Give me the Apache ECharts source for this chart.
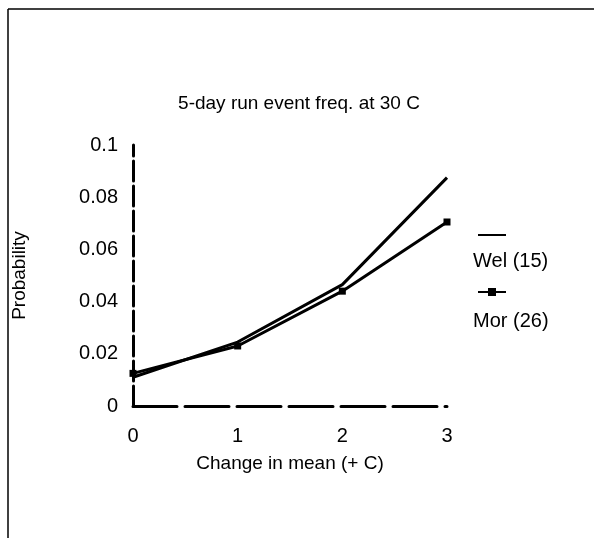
<!DOCTYPE html>
<html>
<head>
<meta charset="utf-8">
<script src="https://cdn.jsdelivr.net/npm/echarts@6/dist/echarts.min.js"></script>
<style>
html, body { margin: 0; padding: 0; background: #fff; }
#chart { width: 594px; height: 538px; }
</style>
</head>
<body>
<div id="chart"></div>
<script>
// 数据
var xValues = [0, 1, 2, 3];
var welData = [0.011, 0.0245, 0.0465, 0.0875];
var morData = [0.0125, 0.023, 0.044, 0.0705];
var seriesNames = ['Wel (15)', 'Mor (26)'];

var myChart = echarts.init(document.getElementById('chart'));
var font = 'Liberation Sans, Arial, sans-serif';

function pairs(vals) {
	return xValues.map(function (x, i) { return [x, vals[i]]; });
}

var option = {
	backgroundColor: '#fff',
	animation: false,
	title: {
		text: '5-day run event freq. at 30 C',
		left: 294,
		top: 89,
		textAlign: 'center',
		textStyle: { fontFamily: font, fontSize: 19, fontWeight: 'normal', color: '#000' }
	},
	grid: { left: 133, right: 147, top: 145, bottom: 132 },
	legend: {
		orient: 'vertical',
		left: 472,
		top: 225,
		itemWidth: 28,
		itemHeight: 10,
		itemGap: 48,
		formatter: function () { return ''; },
		data: [
			{ name: seriesNames[0], itemStyle: { opacity: 0 } },
			{ name: seriesNames[1] }
		]
	},
	// 图例文字在图标下方
	graphic: [
		{ type: 'text', left: 473, top: 251, style: { text: seriesNames[0], font: '20px ' + font, fill: '#000' } },
		{ type: 'text', left: 473, top: 311, style: { text: seriesNames[1], font: '20px ' + font, fill: '#000' } },
		{ type: 'line', shape: { x1: 8, y1: 9, x2: 594, y2: 9 }, style: { stroke: '#000', lineWidth: 1.5 } },
		{ type: 'line', shape: { x1: 8, y1: 9, x2: 8, y2: 538 }, style: { stroke: '#000', lineWidth: 1.5 } }
	],
	xAxis: {
		type: 'value',
		min: 0,
		max: 3,
		interval: 1,
		name: 'Change in mean (+ C)',
		nameLocation: 'middle',
		nameGap: 48,
		nameTextStyle: { fontFamily: font, fontSize: 19, color: '#000' },
		axisLine: { lineStyle: { color: '#000', width: 3, type: [44, 8] } },
		axisTick: { show: false },
		splitLine: { show: false },
		axisLabel: { margin: 20, fontFamily: font, fontSize: 20, color: '#000' }
	},
	yAxis: {
		type: 'value',
		min: 0,
		max: 0.1,
		interval: 0.02,
		name: 'Probability',
		nameLocation: 'middle',
		nameGap: 104,
		nameTextStyle: { fontFamily: font, fontSize: 19, color: '#000' },
		axisLine: { show: true, lineStyle: { color: '#000', width: 3, type: [20, 5] } },
		axisTick: { show: false },
		splitLine: { show: false },
		axisLabel: { margin: 15, fontFamily: font, fontSize: 20, color: '#000' }
	},
	series: [
		{
			name: seriesNames[0],
			type: 'line',
			data: pairs(welData),
			symbol: 'none',
			lineStyle: { color: '#000', width: 3 },
			itemStyle: { color: '#000' }
		},
		{
			name: seriesNames[1],
			type: 'line',
			data: pairs(morData),
			symbol: 'rect',
			symbolSize: 7,
			lineStyle: { color: '#000', width: 3 },
			itemStyle: { color: '#000' }
		}
	]
};
myChart.setOption(option);
</script>
</body>
</html>
